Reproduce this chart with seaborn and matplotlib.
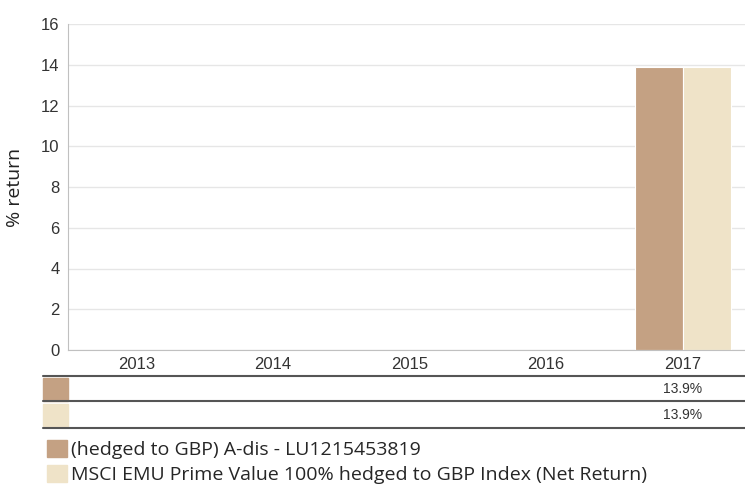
import pandas as pd
import matplotlib.pyplot as plt
import seaborn as sns
from matplotlib.lines import Line2D
from matplotlib.patches import Rectangle, Patch

# chart data
YEARS = ["2013", "2014", "2015", "2016", "2017"]
FUND_NAME = "(hedged to GBP) A-dis - LU1215453819"
INDEX_NAME = "MSCI EMU Prime Value 100% hedged to GBP Index (Net Return)"
FUND_RETURNS = [None, None, None, None, 13.9]
INDEX_RETURNS = [None, None, None, None, 13.9]
Y_TICKS = [0, 2, 4, 6, 8, 10, 12, 14, 16]

FUND_COLOR = "#C4A183"
INDEX_COLOR = "#EFE3C8"

W, H = 745, 487


def fx(px):
    return px / W


def fy(py):
    return 1 - py / H


def build_frame():
    rows = []
    for name, values in [(FUND_NAME, FUND_RETURNS), (INDEX_NAME, INDEX_RETURNS)]:
        for year, val in zip(YEARS, values):
            rows.append({"year": year, "series": name, "value": val})
    return pd.DataFrame(rows)


if __name__ == "__main__":
    sns.set_style("white")
    plt.rcParams["font.family"] = ["Liberation Sans", "DejaVu Sans"]

    data = build_frame()

    fig = plt.figure(figsize=(W / 100, H / 100), dpi=100)
    ax = fig.add_axes([fx(68), fy(350), fx(751) - fx(68), fy(24) - fy(350)])

    sns.barplot(data=data, x="year", y="value", hue="series", order=YEARS,
                hue_order=[FUND_NAME, INDEX_NAME],
                palette=[FUND_COLOR, INDEX_COLOR], saturation=1, width=0.7,
                edgecolor="white", linewidth=0.8, legend=False, ax=ax)

    ax.set_xlim(-0.5, len(YEARS) - 0.5)
    ax.set_ylim(0, 16)
    ax.set_yticks(Y_TICKS)
    ax.yaxis.grid(True, color="#e6e6e6", linewidth=1)
    ax.set_axisbelow(True)
    for side in ["top", "right"]:
        ax.spines[side].set_visible(False)
    for side in ["left", "bottom"]:
        ax.spines[side].set_color("#c0c0c0")
    ax.tick_params(axis="both", length=0, labelsize=12, colors="#333333", pad=6)
    ax.tick_params(axis="x", pad=5)
    ax.set_xlabel("")
    ax.set_ylabel("% return", fontsize=14, family=["Open Sans", "DejaVu Sans"],
                  color="#222222", labelpad=12)

    # table under the axis
    for py in [376, 401, 428]:
        fig.add_artist(Line2D([fx(43), 1], [fy(py), fy(py)], color="#555555",
                              linewidth=1.5))
    tab = fig.add_axes([fx(68), fy(428), fx(751) - fx(68), fy(376) - fy(428)])
    tab.set_xlim(ax.get_xlim())
    tab.set_ylim(0, 2)
    tab.axis("off")
    for row, (values, color) in enumerate([(FUND_RETURNS, FUND_COLOR),
                                           (INDEX_RETURNS, INDEX_COLOR)]):
        fig.add_artist(Rectangle((fx(43), fy(402 + 26 * row) + 0.002), fx(25),
                                 fy(376) - fy(401) - 0.004, color=color))
        for i, val in enumerate(values):
            if val is not None:
                tab.text(i, 1.5 - row, f"{val:.1f}%", ha="center", va="center",
                         fontsize=10, color="#333333")

    handles = [Patch(color=FUND_COLOR), Patch(color=INDEX_COLOR)]
    fig.legend(handles, [FUND_NAME, INDEX_NAME], loc="upper left",
               bbox_to_anchor=(fx(33), fy(426)), frameon=False,
               prop={"family": ["Open Sans", "DejaVu Sans"], "size": 14},
               handlelength=1.05, handleheight=1.0, handletextpad=0.2,
               labelspacing=0.3, borderpad=0.2)

    fig.savefig("out.png", dpi=100)
